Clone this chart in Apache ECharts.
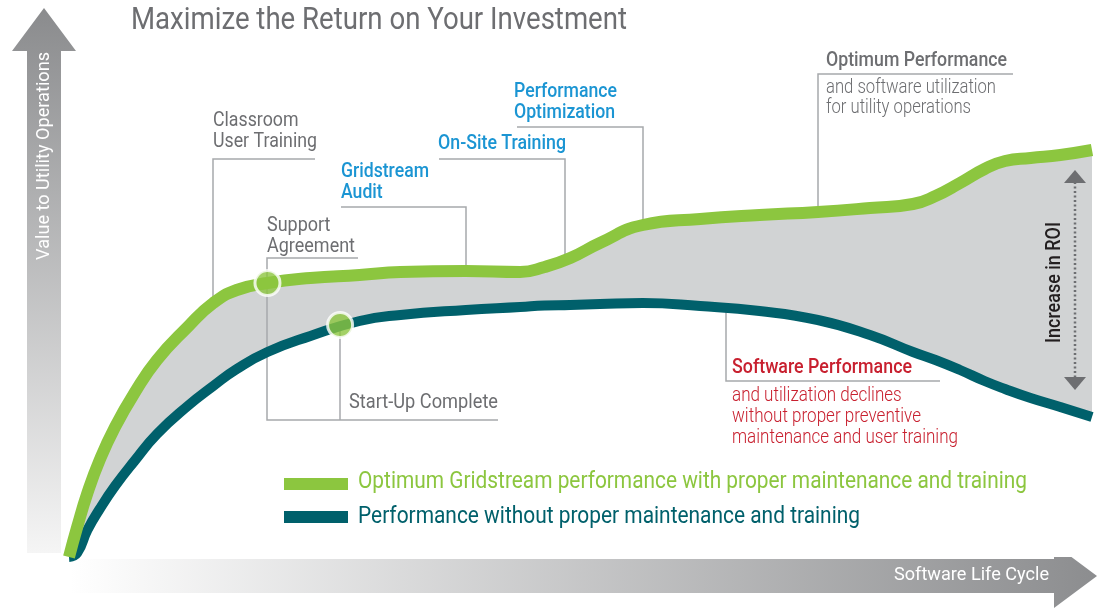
<!DOCTYPE html>
<html>
<head>
<meta charset="utf-8">
<title>Maximize the Return on Your Investment</title>
<script src="https://cdn.jsdelivr.net/npm/echarts@6.0.0/dist/echarts.min.js"></script>
<style>
  html, body { margin: 0; padding: 0; background: #fff; }
  #chart { width: 1102px; height: 609px; }
</style>
</head>
<body>
<div id="chart"></div>
<script>
// position in the software life cycle (0 = go-live, 100 = right edge)
const lifeCycle = [0, 0.8, 1.8, 3.0, 4.5, 6.4, 8.6, 11.6, 14.1, 16.4, 19.4, 23.6, 28.4, 32.4, 38.8, 44.1, 46.5, 49.0, 51.9, 56.1, 61.7, 67.5, 73.2, 78.3, 82.5, 84.7, 87.1, 89.5, 91.5, 94.0, 96.9, 100];
// value to utility operations with proper maintenance and training
const optimumValue = [0, 6, 12.8, 19.4, 26, 32.8, 39.4, 46, 50.8, 53.4, 54.8, 55.8, 56.4, 57, 57.2, 57, 58, 59.8, 62.8, 66.4, 67.6, 68.4, 69, 69.8, 70.6, 72.2, 74.8, 77.6, 79.2, 79.8, 80.4, 81.4];
// value without it
const withoutValue = [0, 0.8, 5.4, 9.6, 14.2, 19.2, 24.6, 30.2, 34.2, 37.6, 41, 44.2, 47.2, 48.4, 49.4, 50, 50.3, 50.4, 50.6, 50.8, 50.2, 49.2, 47.4, 44.4, 41, 39.4, 37.4, 35.2, 33.6, 31.8, 30, 28];
// milestones marked with a dot: support agreement (optimum curve), start-up complete (other curve)
const milestonePoints = [[19.4, 54.8], [26.5, 46.4]];

const seriesNames = [
  "Optimum Gridstream performance with proper maintenance and training",
  "Performance without proper maintenance and training"
];

const GREEN = "#8cc63f", TEAL = "#00606b", GRAY = "#6d6e71", BLUE = "#1b95d3", RED = "#c8202f", LEADER = "#a7a9ac";
const SMOOTH = 0.5;

const chart = echarts.init(document.getElementById("chart"), null, { renderer: "canvas" });

// narrow the text to the width it has in the picture (the original uses a condensed face)
const ctx = document.createElement("canvas").getContext("2d");
function fitScale(lines, size, weight, width) {
  ctx.font = weight + " " + size + "px Roboto";
  const w = Math.max(...lines.map(l => ctx.measureText(l).width));
  return width / w;
}
function textBlock(lines, x, y, lh, o) {
  const weight = o.weight || "normal";
  const sx = fitScale(lines, o.size, weight, o.width);
  return lines.map((t, i) => ({
    type: "text",
    x: o.rotation ? x + i * lh : x,
    y: o.rotation ? y : y + i * lh,
    scaleX: sx,
    rotation: o.rotation || 0,
    z: 10,
    silent: true,
    style: {
      text: t, fill: o.color, fontSize: o.size, fontFamily: "Roboto", fontWeight: weight,
      textAlign: o.align || "left", textVerticalAlign: "middle"
    }
  }));
}
function leader(points) {
  return { type: "polyline", z: 2, silent: true, shape: { points: points }, style: { stroke: LEADER, lineWidth: 1.5, fill: null } };
}

const pairs = vals => lifeCycle.map((x, i) => [x, vals[i]]);

const graphics = [
  // axis arrows
  {
    type: "polygon", z: 0, silent: true,
    shape: { points: [[27, 553], [61, 553], [61, 51], [76, 51], [44, 8], [12, 51], [27, 51]] },
    style: { fill: new echarts.graphic.LinearGradient(0, 0, 0, 1, [{ offset: 0, color: "#8a8b8d" }, { offset: 1, color: "#f5f5f5" }]) }
  },
  {
    type: "polygon", z: 0, silent: true,
    shape: { points: [[70, 559], [1054, 559], [1054, 544], [1097, 576], [1054, 608], [1054, 593], [70, 593]] },
    style: { fill: new echarts.graphic.LinearGradient(0, 0, 1, 0, [{ offset: 0, color: "#ffffff" }, { offset: 1, color: "#8c8d8f" }]) }
  },
  // ROI span
  { type: "line", z: 6, silent: true, shape: { x1: 1075, y1: 182, x2: 1075, y2: 378 }, style: { stroke: "#6d6e71", lineWidth: 2.5, lineDash: [2, 2.5] } },
  { type: "polygon", z: 6, silent: true, shape: { points: [[1064, 183], [1086, 183], [1075, 170]] }, style: { fill: "#6d6e71" } },
  { type: "polygon", z: 6, silent: true, shape: { points: [[1064, 377], [1086, 377], [1075, 390]] }, style: { fill: "#6d6e71" } },
  // leader lines
  leader([[315, 159], [213, 159], [213, 304]]),
  leader([[358, 258], [267, 258], [267, 420], [498, 420]]),
  leader([[340, 326], [340, 420]]),
  leader([[341, 207], [466, 207], [466, 272]]),
  leader([[439, 159], [565, 159], [565, 264]]),
  leader([[517, 127], [643, 127], [643, 228]]),
  leader([[1013, 74], [818, 74], [818, 213]]),
  leader([[726, 310], [726, 381], [940, 381]]),
  // legend keys
  { type: "rect", z: 5, silent: true, shape: { x: 284, y: 478, width: 64, height: 12 }, style: { fill: GREEN } },
  { type: "rect", z: 5, silent: true, shape: { x: 284, y: 511, width: 64, height: 12 }, style: { fill: TEAL } }
].concat(
  textBlock(["Maximize the Return on Your Investment"], 131, 21, 0, { size: 31, color: GRAY, width: 496 }),
  textBlock(["Classroom", "User Training"], 213, 121, 21, { size: 21, color: GRAY, width: 104 }),
  textBlock(["Support", "Agreement"], 267, 225.5, 21, { size: 21, color: GRAY, width: 88 }),
  textBlock(["Gridstream", "Audit"], 341, 171.5, 21, { size: 21, color: BLUE, width: 88, weight: 500 }),
  textBlock(["On-Site Training"], 438, 143.5, 0, { size: 21, color: BLUE, width: 128, weight: 500 }),
  textBlock(["Performance", "Optimization"], 514, 91.5, 21, { size: 21, color: BLUE, width: 103, weight: 500 }),
  textBlock(["Optimum Performance"], 826, 60.5, 0, { size: 21, color: GRAY, width: 181, weight: 500 }),
  textBlock(["and software utilization", "for utility operations"], 826, 87.5, 20, { size: 20, color: GRAY, width: 170, weight: 300 }),
  textBlock(["Start-Up Complete"], 349, 403, 0, { size: 21, color: GRAY, width: 149 }),
  textBlock(["Software Performance"], 732, 367.5, 0, { size: 21, color: RED, width: 180, weight: 500 }),
  textBlock(["and utilization declines", "without proper preventive", "maintenance and user training"], 732, 396, 21, { size: 20, color: RED, width: 226, weight: 300 }),
  textBlock([seriesNames[0]], 358, 482, 0, { size: 23, color: GREEN, width: 669 }),
  textBlock([seriesNames[1]], 358, 517.5, 0, { size: 23, color: TEAL, width: 502 }),
  textBlock(["Increase in ROI"], 1055, 282.5, 0, { size: 21, color: "#231f20", width: 121, weight: 500, align: "center", rotation: Math.PI / 2 }),
  textBlock(["Value to Utility Operations"], 44, 156, 0, { size: 19, color: "#ffffff", width: 208, align: "center", rotation: Math.PI / 2 }),
  textBlock(["Software Life Cycle"], 1049, 575.5, 0, { size: 19, color: "#ffffff", width: 155, align: "right" })
);

const option = {
  animation: false,
  grid: { left: 69, right: 10, top: 57, bottom: 52 },
  xAxis: { type: "value", min: 0, max: 100, show: false },
  yAxis: { type: "value", min: 0, max: 100, show: false },
  graphic: graphics,
  series: [
    {
      // grey under the optimum curve ...
      name: "roiFill", type: "line", z: 1, silent: true,
      data: pairs(optimumValue),
      smooth: SMOOTH, symbol: "none",
      lineStyle: { opacity: 0 },
      areaStyle: { color: "#d1d3d4", opacity: 1 }
    },
    {
      // ... cleared again under the lower curve, leaving the ROI band
      name: "roiClear", type: "line", z: 1, silent: true,
      data: pairs(withoutValue),
      smooth: SMOOTH, symbol: "none",
      lineStyle: { opacity: 0 },
      areaStyle: { color: "#ffffff", opacity: 1 }
    },
    {
      name: seriesNames[1], type: "line", z: 3,
      data: pairs(withoutValue),
      smooth: SMOOTH, symbol: "none",
      lineStyle: { color: TEAL, width: 10 }
    },
    {
      name: seriesNames[0], type: "line", z: 3,
      data: pairs(optimumValue),
      smooth: SMOOTH, symbol: "none",
      lineStyle: { color: GREEN, width: 12 }
    },
    {
      name: "milestones", type: "scatter", z: 4,
      data: milestonePoints,
      symbolSize: 25,
      itemStyle: { color: GREEN, borderColor: "#ffffff", borderWidth: 3 }
    }
  ]
};

chart.setOption(option);
</script>
</body>
</html>
